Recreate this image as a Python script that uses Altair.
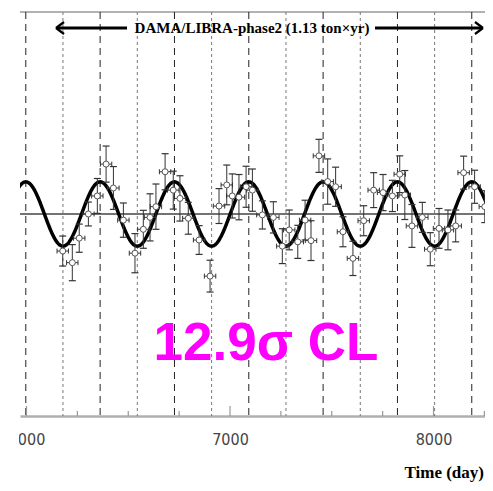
import altair as alt
import pandas as pd

# ---- data ----
days = [6178, 6225, 6259, 6304, 6348, 6391, 6427, 6476, 6533, 6574,
        6607, 6636, 6681, 6721, 6754, 6795, 6848, 6902, 6946, 6984,
        7011, 7044, 7079, 7110, 7159, 7213, 7257, 7291, 7333, 7369,
        7398, 7437, 7480, 7519, 7555, 7604, 7657, 7706, 7752, 7798,
        7834, 7859, 7894, 7945, 7984, 8027, 8071, 8109, 8148, 8202,
        8252, 8307]
residuals = [-0.0121, -0.0159, -0.0079, 0.0000, 0.0059, 0.0163, 0.0085, -0.0020, -0.0128, -0.0050,
             -0.0011, 0.0024, 0.0138, 0.0078, 0.0051, -0.0014, -0.0085, -0.0203, 0.0026, 0.0095,
             0.0059, 0.0055, 0.0089, 0.0078, -0.0003, -0.0011, -0.0105, -0.0052, -0.0091, -0.0020,
             -0.0087, 0.0190, 0.0106, 0.0089, -0.0058, -0.0145, -0.0022, 0.0078, 0.0070, 0.0059,
             0.0130, 0.0062, -0.0039, -0.0011, -0.0115, -0.0047, -0.0052, -0.0039, 0.0135, 0.0089,
             0.0024, -0.0111]
errors = [0.0049, 0.0059, 0.0046, 0.0039, 0.0057, 0.0059, 0.0070, 0.0056, 0.0064, 0.0062,
          0.0077, 0.0074, 0.0059, 0.0062, 0.0074, 0.0052, 0.0047, 0.0052, 0.0057, 0.0065,
          0.0072, 0.0074, 0.0067, 0.0069, 0.0046, 0.0051, 0.0057, 0.0065, 0.0054, 0.0065,
          0.0065, 0.0054, 0.0074, 0.0064, 0.0049, 0.0056, 0.0049, 0.0057, 0.0059, 0.0051,
          0.0060, 0.0080, 0.0070, 0.0049, 0.0054, 0.0065, 0.0065, 0.0052, 0.0054, 0.0054,
          0.0052, 0.0080]
bin_half_width = 28  # days

# fit: A cos(2pi/T (t - t0))
fit_amplitude = 0.0105
fit_period = 365.25
fit_phase = 152.5

peak_days = [5996.5, 6361.75, 6727.0, 7092.25, 7457.5, 7822.75, 8188.0]
trough_days = [6179.1, 6544.4, 6909.6, 7274.9, 7640.1, 8005.4]
major_ticks = [6000, 7000, 8000]
minor_ticks = [6250, 6500, 6750, 7250, 7500, 7750, 8250]

title_text = ["DAMA/LIBRA-phase2 (1.13 ton\u00d7yr)"]
cl_text = ["12.9\u03c3 CL"]
xlabel_text = ["Time (day)"]

x_domain = [5968, 8253]
y_domain = [-0.066, 0.066]

W, H = 465, 404

xs = alt.Scale(domain=x_domain, nice=False, zero=False)
ys = alt.Scale(domain=y_domain, nice=False, zero=False)

pts = pd.DataFrame({"day": days, "res": residuals, "err": errors})
pts["lo"] = pts["res"] - pts["err"]
pts["hi"] = pts["res"] + pts["err"]
pts["xl"] = pts["day"] - bin_half_width
pts["xr"] = pts["day"] + bin_half_width

one = pd.DataFrame({"a": [0]})
zero_df = pd.DataFrame({"y": [0.0]})

xaxis = alt.Axis(values=major_ticks, ticks=False, grid=False, title=None,
                 domainColor="#b0b0b0", domainWidth=2.5,
                 labelFont="Liberation Sans Narrow, DejaVu Sans Condensed, sans-serif",
                 labelFontSize=16, labelColor="#444", labelPadding=15, format="d")

top_line = alt.Chart(one).mark_rule(color="#999", strokeWidth=1.5).encode(
    x=alt.value(0), x2=alt.value(W), y=alt.value(0))

zero_line = alt.Chart(zero_df).mark_rule(color="#444", strokeWidth=1.4).encode(
    y=alt.Y("y:Q", scale=ys, axis=None))

peak_lines = alt.Chart(pd.DataFrame({"day": peak_days})).mark_rule(
    color="#222", strokeWidth=1, strokeDash=[7, 5], clip=True).encode(
    x=alt.X("day:Q", scale=xs, axis=xaxis))

trough_lines = alt.Chart(pd.DataFrame({"day": trough_days})).mark_rule(
    color="#777", strokeWidth=1, strokeDash=[3, 3], clip=True).encode(x=alt.X("day:Q", scale=xs))

major = alt.Chart(pd.DataFrame({"day": major_ticks})).mark_rule(
    color="#999", strokeWidth=1.2).encode(x=alt.X("day:Q", scale=xs), y=alt.value(H), y2=alt.value(H - 10))
minor = alt.Chart(pd.DataFrame({"day": minor_ticks})).mark_rule(
    color="#999", strokeWidth=1.2, clip=True).encode(x=alt.X("day:Q", scale=xs), y=alt.value(H), y2=alt.value(H - 5))

fit = alt.Chart(alt.sequence(5900, 8400, 2, as_="t")).transform_calculate(
    y=f"{fit_amplitude} * cos(2 * PI / {fit_period} * (datum.t - {fit_phase}))"
).mark_line(color="black", strokeWidth=3.5, clip=True).encode(
    x=alt.X("t:Q", scale=xs), y=alt.Y("y:Q", scale=ys, axis=None))

ebar = alt.Chart(pts).mark_rule(color="#333", strokeWidth=1, clip=True).encode(
    x=alt.X("day:Q", scale=xs), y=alt.Y("lo:Q", scale=ys, axis=None), y2="hi:Q")
cap_lo = alt.Chart(pts).mark_point(shape="M-1,0L1,0", size=49, filled=False, color="#333",
                                    strokeWidth=1.2, opacity=1, clip=True).encode(
    x=alt.X("day:Q", scale=xs), y=alt.Y("lo:Q", scale=ys, axis=None))
cap_hi = alt.Chart(pts).mark_point(shape="M-1,0L1,0", size=49, filled=False, color="#333",
                                    strokeWidth=1.2, opacity=1, clip=True).encode(
    x=alt.X("day:Q", scale=xs), y=alt.Y("hi:Q", scale=ys, axis=None))
xbar = alt.Chart(pts).mark_rule(color="#333", strokeWidth=1, clip=True).encode(
    x=alt.X("xl:Q", scale=xs), x2="xr:Q", y=alt.Y("res:Q", scale=ys, axis=None))
xcap_l = alt.Chart(pts).mark_point(shape="M0,-1L0,1", size=25, filled=False, color="#333",
                                    strokeWidth=1, opacity=1, clip=True).encode(
    x=alt.X("xl:Q", scale=xs), y=alt.Y("res:Q", scale=ys, axis=None))
xcap_r = alt.Chart(pts).mark_point(shape="M0,-1L0,1", size=25, filled=False, color="#333",
                                    strokeWidth=1, opacity=1, clip=True).encode(
    x=alt.X("xr:Q", scale=xs), y=alt.Y("res:Q", scale=ys, axis=None))
circles = alt.Chart(pts).mark_point(shape="circle", size=36, filled=False, fill="white",
                                     stroke="#555", strokeWidth=1, opacity=1, fillOpacity=1, clip=True).encode(
    x=alt.X("day:Q", scale=xs), y=alt.Y("res:Q", scale=ys, axis=None))

# annotations
title = alt.Chart(pd.DataFrame({"t": title_text})).mark_text(
    font="Liberation Serif", fontWeight="bold", fontSize=15, color="black",
    align="center", baseline="middle").encode(text="t:N", x=alt.value(232), y=alt.value(16))

arrow_style = dict(color="black", strokeWidth=3)
head_style = dict(color="black", strokeWidth=2.2)
l_shaft = alt.Chart(one).mark_rule(**arrow_style).encode(x=alt.value(37), x2=alt.value(107), y=alt.value(16))
l_h1 = alt.Chart(one).mark_rule(**head_style).encode(x=alt.value(36), x2=alt.value(44), y=alt.value(16), y2=alt.value(10))
l_h2 = alt.Chart(one).mark_rule(**head_style).encode(x=alt.value(36), x2=alt.value(44), y=alt.value(16), y2=alt.value(22))
r_shaft = alt.Chart(one).mark_rule(**arrow_style).encode(x=alt.value(355), x2=alt.value(462), y=alt.value(16))
r_h1 = alt.Chart(one).mark_rule(**head_style).encode(x=alt.value(463), x2=alt.value(455), y=alt.value(16), y2=alt.value(10))
r_h2 = alt.Chart(one).mark_rule(**head_style).encode(x=alt.value(463), x2=alt.value(455), y=alt.value(16), y2=alt.value(22))

cl = alt.Chart(pd.DataFrame({"t": cl_text})).mark_text(
    font="Liberation Sans", fontWeight="bold", fontSize=53, color="#FF00FF",
    align="center", baseline="alphabetic").encode(text="t:N", x=alt.value(246), y=alt.value(348))

xlabel = alt.Chart(pd.DataFrame({"t": xlabel_text})).mark_text(
    font="Liberation Serif", fontWeight="bold", fontSize=17, color="black",
    align="right", baseline="middle").encode(text="t:N", x=alt.value(W - 1), y=alt.value(461))

cover = alt.Chart(one).mark_rect(color="white").encode(
    x=alt.value(-13), x2=alt.value(-1), y=alt.value(H + 8), y2=alt.value(H + 40))

chart = alt.layer(
    top_line, trough_lines, peak_lines, major, minor, zero_line,
    fit, ebar, cap_lo, cap_hi, xbar, xcap_l, xcap_r, circles,
    title, l_shaft, l_h1, l_h2, r_shaft, r_h1, r_h2, cl, xlabel, cover
).properties(
    width=W, height=H,
    autosize=alt.AutoSizeParams(type="none"),
    padding={"left": 12, "top": 4, "right": 0, "bottom": 67},
    background="white"
).configure_view(stroke=None)

chart.save("out.html", embed_options={"renderer": "svg", "actions": False})
